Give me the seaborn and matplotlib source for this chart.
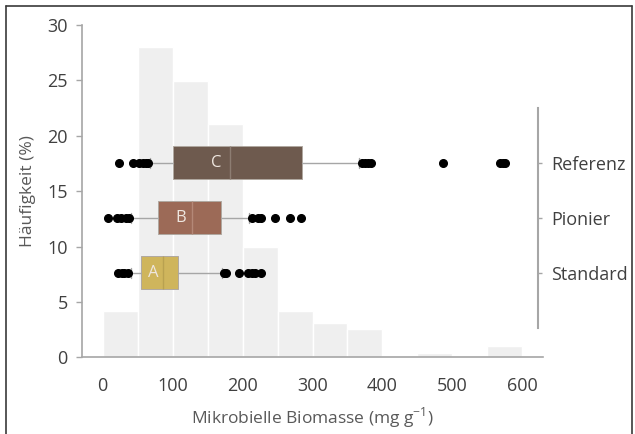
import numpy as np
import pandas as pd
import matplotlib
matplotlib.use("Agg")
import matplotlib.pyplot as plt
import seaborn as sns

# ---- data ----
bin_edges = [0, 50, 100, 150, 200, 250, 300, 350, 400, 450, 500, 550, 600]
bin_freq = [4.2, 28.0, 24.9, 21.1, 10.0, 4.2, 3.1, 2.6, 0.1, 0.35, 0.1, 1.0]

groups = ["Referenz", "Pionier", "Standard"]
letters = ["C", "B", "A"]
q1 = [100, 79, 55]
median = [182, 127, 86]
q3 = [285, 169, 107]
whis_lo = [68, 41, 41]
whis_hi = [367, 209, 170]
fliers = [
    [23, 44, 52, 57, 62, 65, 371, 375, 379, 384, 487, 568, 572, 575],
    [8, 21, 26, 33, 38, 214, 222, 227, 247, 268, 283],
    [22, 27, 31, 36, 173, 177, 195, 208, 213, 218, 227],
]
box_colors = ["#6e5a4e", "#9c6a57", "#cfb55c"]
median_colors = ["#8d7d72", "#b48877", "#b9a150"]
x_ticks = [0, 100, 200, 300, 400, 500, 600]
y_ticks = [0, 5, 10, 15, 20, 25, 30]

# ---- style ----
sns.set_style("white")
plt.rcParams["font.family"] = ["Open Sans", "DejaVu Sans"]
plt.rcParams["mathtext.fontset"] = "custom"
plt.rcParams["mathtext.rm"] = "Open Sans"

W, H = 635, 434
fig = plt.figure(figsize=(W / 100, H / 100), dpi=100)
ax = fig.add_axes([81.7 / W, 1 - 357.3 / H, (543.3 - 81.7) / W, (357.3 - 25) / H])

centers = [(a + b) / 2 for a, b in zip(bin_edges[:-1], bin_edges[1:])]
hist_df = pd.DataFrame({"x": centers, "w": bin_freq})
sns.histplot(data=hist_df, x="x", weights="w", bins=bin_edges, ax=ax,
             color="#efefef", edgecolor="white", linewidth=1.0, alpha=1.0)

ax.set_xlim(-30, 630)
ax.set_ylim(0, 30)
ax.set_xticks(x_ticks)
ax.set_yticks(y_ticks)
axis_col = "#a6a6a6"
text_col = "#404040"
for s in ["top", "right"]:
    ax.spines[s].set_visible(False)
for s in ["left", "bottom"]:
    ax.spines[s].set_color(axis_col)
    ax.spines[s].set_linewidth(1.2)
ax.tick_params(axis="both", which="both", direction="out", length=4, width=1,
               color=axis_col, labelcolor=text_col, labelsize=13)
ax.tick_params(axis="x", pad=10)
ax.tick_params(axis="y", pad=6)
ax.set_xlabel("Mikrobielle Biomasse (mg g$^{\\mathregular{-1}}$)", fontsize=12.5,
              color="#595959", labelpad=8)
ax.set_ylabel("Häufigkeit (%)", fontsize=12.5, color="#595959", labelpad=8)

# ---- boxplots on twin axis ----
ax2 = ax.twinx()
stats = []
for i in range(len(groups)):
    stats.append(dict(med=median[i], q1=q1[i], q3=q3[i], whislo=whis_lo[i],
                      whishi=whis_hi[i], fliers=fliers[i], label=groups[i]))
pos = list(range(len(groups)))
bp = ax2.bxp(stats, positions=pos, orientation="horizontal", widths=0.6,
             patch_artist=True, capwidths=0.18, manage_ticks=False,
             boxprops=dict(linewidth=0.7, edgecolor="#b0a8a0"),
             whiskerprops=dict(color=axis_col, linewidth=1.0),
             capprops=dict(color=axis_col, linewidth=1.0),
             medianprops=dict(color="#b0a8a0", linewidth=1.0),
             flierprops=dict(marker="o", markerfacecolor="black",
                             markeredgecolor="black", markersize=5.5))
for patch, c in zip(bp["boxes"], box_colors):
    patch.set_facecolor(c)
for ml, c in zip(bp["medians"], median_colors):
    ml.set_color(c)
for i, (lt, c) in enumerate(zip(letters, box_colors)):
    xl = [162, 111, 72][i]
    ax2.text(xl, pos[i], lt, ha="center", va="center", color="#eee6df",
             fontsize=12)

ax2.set_ylim(3.533, -2.509)
ax2.set_yticks(pos)
ax2.set_yticklabels(groups)
for s in ["top", "left", "bottom"]:
    ax2.spines[s].set_visible(False)
ax2.spines["right"].set_position(("data", 623))
ax2.spines["right"].set_bounds(-1, 3)
ax2.spines["right"].set_color(axis_col)
ax2.spines["right"].set_linewidth(1.5)
ax2.tick_params(axis="y", direction="out", length=3, width=1, color=axis_col,
                labelcolor=text_col, labelsize=13, pad=6)
ax2.set_xlim(-30, 630)

# ---- outer frame ----
frame_col = "#3a3a3a"
fig.add_artist(plt.Line2D([6 / W, 6 / W], [0, 1 - 6 / H], transform=fig.transFigure,
                          color=frame_col, linewidth=1.2))
fig.add_artist(plt.Line2D([6 / W, 632 / W], [1 - 6 / H, 1 - 6 / H], transform=fig.transFigure,
                          color=frame_col, linewidth=1.2))
fig.add_artist(plt.Line2D([632 / W, 632 / W], [0, 1 - 6 / H], transform=fig.transFigure,
                          color=frame_col, linewidth=1.2))

fig.savefig("out.png", dpi=100)
